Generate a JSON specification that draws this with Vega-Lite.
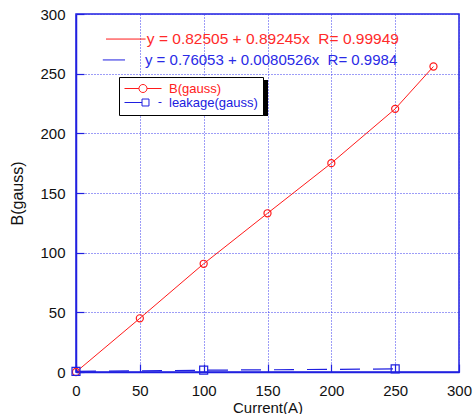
{
  "$schema": "https://vega.github.io/schema/vega-lite/v6.json",
  "autosize": {"type": "none"},
  "width": 383,
  "height": 358,
  "padding": {"left": 76, "top": 14, "right": 15, "bottom": 42},
  "background": "white",
  "config": {
    "font": "Liberation Sans",
    "view": {"stroke": "#2020e0", "strokeWidth": 1.5},
    "axis": {
      "domainColor": "#2020e0",
      "domainWidth": 1.5,
      "tickColor": "#2020e0",
      "tickSize": -8,
      "tickWidth": 1.2,
      "grid": true,
      "gridColor": "#3a3aee",
      "gridDash": [1, 2],
      "gridWidth": 1,
      "gridOpacity": 1,
      "labelFlush": false,
      "labelFontSize": 15,
      "labelColor": "#111111",
      "labelFont": "Liberation Sans",
      "titleFont": "Liberation Sans",
      "titleFontWeight": "normal",
      "titleColor": "#111111",
      "titleFontSize": 15
    }
  },
  "datasets": {
    "meas": [
      {"current": 0, "value": 0, "series": "B(gauss)"},
      {"current": 50, "value": 45, "series": "B(gauss)"},
      {"current": 100, "value": 90.7, "series": "B(gauss)"},
      {"current": 150, "value": 133, "series": "B(gauss)"},
      {"current": 200, "value": 175, "series": "B(gauss)"},
      {"current": 250, "value": 220.5, "series": "B(gauss)"},
      {"current": 280, "value": 256, "series": "B(gauss)"},
      {"current": 0, "value": 0.5, "series": "leakage(gauss)"},
      {"current": 100, "value": 1.5, "series": "leakage(gauss)"},
      {"current": 250, "value": 2.6, "series": "leakage(gauss)"}
    ]
  },
  "layer": [
    {
      "data": {"name": "meas"},
      "transform": [{"filter": "datum.series === 'B(gauss)'"}],
      "mark": {"type": "line", "strokeWidth": 1},
      "encoding": {
        "x": {
          "field": "current", "type": "quantitative",
          "scale": {"domain": [0, 300], "nice": false},
          "axis": {"values": [0, 50, 100, 150, 200, 250, 300], "title": "Current(A)", "labelPadding": 19, "titleBaseline": "alphabetic", "titleY": 40}
        },
        "y": {
          "field": "value", "type": "quantitative",
          "scale": {"domain": [0, 300], "nice": false},
          "axis": {"values": [0, 50, 100, 150, 200, 250, 300], "title": "B(gauss)", "labelPadding": 19, "titlePadding": 14, "titleFontSize": 16}
        },
        "color": {
          "field": "series", "type": "nominal",
          "scale": {"domain": ["B(gauss)", "leakage(gauss)"], "range": ["#ff1a1a", "#1f1fe0"]},
          "legend": {
            "orient": "none", "legendX": 43, "legendY": 63, "title": null,
            "symbolSize": 144, "labelOffset": 32, "labelFontSize": 13,
            "labelFont": "Liberation Sans",
            "strokeColor": "#000000", "fillColor": "white",
            "padding": 5, "rowPadding": 0,
            "encode": {
              "symbols": {"update": {
                "shape": {"signal": "datum.value === 'B(gauss)' ? 'M-1,0L1.41,0M2.75,0L5.17,0M2.75,0A0.67,0.67,0,1,1,1.41,0A0.67,0.67,0,1,1,2.75,0' : 'M-1,0L1.92,0M4.67,0L5.17,0M1.92,-0.58L3.08,-0.58L3.08,0.58L1.92,0.58Z'"},
                "size": {"value": 144},
                "fill": {"value": "transparent"},
                "strokeDash": {"value": []},
                "strokeWidth": {"value": 1}
              }},
              "labels": {"update": {
                "fill": {"signal": "datum.value === 'B(gauss)' ? '#ff2020' : '#2020e0'"}
              }}
            }
          }
        }
      }
    },
    {
      "data": {"name": "meas"},
      "transform": [{"filter": "datum.series === 'leakage(gauss)'"}],
      "mark": {"type": "line", "strokeWidth": 1.2, "strokeDash": [20, 13]},
      "encoding": {
        "x": {"field": "current", "type": "quantitative"},
        "y": {"field": "value", "type": "quantitative"},
        "color": {"field": "series", "type": "nominal"}
      }
    },
    {
      "data": {"name": "meas"},
      "mark": {"type": "point", "filled": false, "strokeWidth": 1.2, "opacity": 1},
      "encoding": {
        "x": {"field": "current", "type": "quantitative"},
        "y": {"field": "value", "type": "quantitative"},
        "color": {"field": "series", "type": "nominal"},
        "shape": {"condition": {"test": "datum.series === 'B(gauss)'", "value": "circle"}, "value": "square"},
        "size": {"condition": {"test": "datum.series === 'B(gauss)'", "value": 50}, "value": 64}
      }
    },
    {
      "data": {"values": [{}]},
      "mark": {"type": "rect", "color": "#000000"},
      "encoding": {
        "x": {"datum": 36, "type": "quantitative"},
        "x2": {"datum": 150.4},
        "y": {"datum": 244.7, "type": "quantitative"},
        "y2": {"datum": 214.5}
      }
    },
    {
      "data": {"values": [{}]},
      "mark": {"type": "rule", "color": "#ff1a1a", "strokeWidth": 1},
      "encoding": {
        "x": {"datum": 23.5, "type": "quantitative"},
        "x2": {"datum": 54.5},
        "y": {"datum": 279, "type": "quantitative"}
      }
    },
    {
      "data": {"values": [{}]},
      "mark": {"type": "rule", "color": "#1f1fe0", "strokeWidth": 1},
      "encoding": {
        "x": {"datum": 21, "type": "quantitative"},
        "x2": {"datum": 38.4},
        "y": {"datum": 261.5, "type": "quantitative"}
      }
    },
    {
      "data": {"values": [{}]},
      "mark": {"type": "text", "text": "y = 0.82505 + 0.89245x\u00a0 R= 0.99949", "color": "#ff2a2a", "align": "left", "baseline": "middle", "fontSize": 15.5, "font": "Liberation Sans"},
      "encoding": {
        "x": {"datum": 55.5, "type": "quantitative"},
        "y": {"datum": 279, "type": "quantitative"}
      }
    },
    {
      "data": {"values": [{}]},
      "mark": {"type": "text", "text": "y = 0.76053 + 0.0080526x\u00a0 R= 0.9984", "color": "#2a2ae6", "align": "left", "baseline": "middle", "fontSize": 15, "font": "Liberation Sans"},
      "encoding": {
        "x": {"datum": 54, "type": "quantitative"},
        "y": {"datum": 261.5, "type": "quantitative"}
      }
    }
  ]
}
